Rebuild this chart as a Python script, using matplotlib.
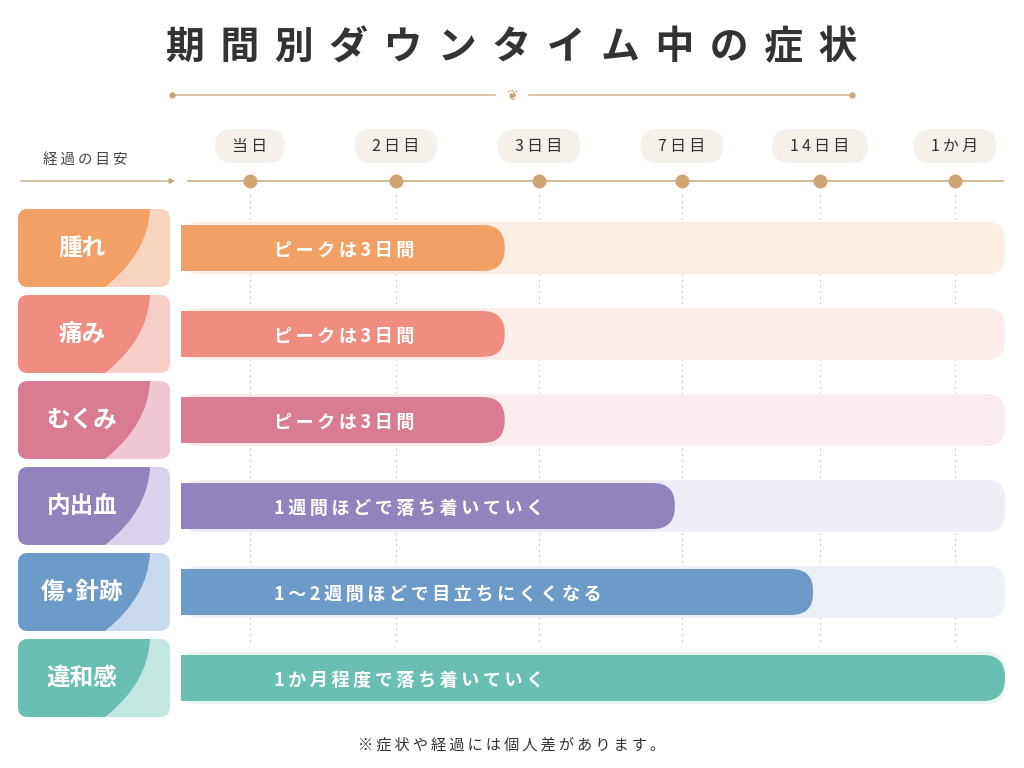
import matplotlib
matplotlib.use("Agg")
import matplotlib.pyplot as plt
from matplotlib.patches import FancyBboxPatch, PathPatch
from matplotlib.path import Path
import numpy as np

plt.rcParams['font.family'] = ['Noto Sans CJK JP', 'DejaVu Sans']

title = "期間別ダウンタイム中の症状"
axis_label = "経過の目安"
ticks = ["当日", "2日目", "3日目", "7日目", "14日目", "1か月"]
symptoms = ["腫れ", "痛み", "むくみ", "内出血", "傷･針跡", "違和感"]
notes = ["ピークは3日間", "ピークは3日間", "ピークは3日間",
         "1週間ほどで落ち着いていく", "1〜2週間ほどで目立ちにくくなる",
         "1か月程度で落ち着いていく"]
bar_end = [1.76, 1.76, 1.76, 2.95, 3.95, 5.37]   # position on the timeline (tick index units)
footnote = "※症状や経過には個人差があります。"

colors = ["#F2A065", "#EF8D80", "#D97B93", "#9283BC", "#6D9BC8", "#6ABFB3"]
light = ["#FBEEE4", "#FBEDEA", "#F8ECEE", "#EFEDF5", "#ECF0F7", "#E8F4F2"]
label_light = ["#F8D3BD", "#F8CFC8", "#F0C6D2", "#D9D2EA", "#C9DAEE", "#C4E6E1"]

tick_px = [250, 396, 539, 682, 820, 955]

def X(i):
    if i < 0:
        return tick_px[0] + (tick_px[1] - tick_px[0]) * i
    if i > 5:
        return tick_px[5] + (tick_px[5] - tick_px[4]) * (i - 5)
    return float(np.interp(i, range(6), tick_px))

def sp(s, k=1):
    return ("\u2009" * k).join(s)

fig = plt.figure(figsize=(10.24, 7.68), dpi=100)
ax = fig.add_axes([0, 0, 1, 1])
ax.set_xlim(0, 1024); ax.set_ylim(768, 0); ax.axis('off')

ax.text(512, 48, sp(title, 2), ha='center', va='center', fontsize=28, fontweight='bold', color='#333333')
ax.plot([172, 495], [95, 95], color='#D9BD98', lw=1.2)
ax.plot([529, 852], [95, 95], color='#D9BD98', lw=1.2)
for xx in (172, 852):
    ax.plot(xx, 95, 'o', ms=3.5, color='#C8A27A')
ax.text(512, 95, "❦", ha='center', va='center', fontsize=10, color='#C8A27A', family=['DejaVu Sans'])

ax.text(85, 160, sp(axis_label), ha='center', va='center', fontsize=10.5, color='#444444')
ax.annotate("", xy=(178, 181), xytext=(18, 181),
            arrowprops=dict(arrowstyle='-|>', color='#C8A882', lw=1, mutation_scale=8))
ax.plot([188, 1003], [181, 181], color='#D2B48E', lw=1.3)
for i, t in enumerate(ticks):
    x = X(i)
    w = 44 + 13 * len(t)
    ax.add_patch(FancyBboxPatch((x - w / 2, 129), w, 34, boxstyle="round,pad=0,rounding_size=17",
                                fc='#F6F0EA', ec='none'))
    ax.text(x, 146, sp(t), ha='center', va='center', fontsize=11.5, color='#333333')
    ax.plot(x, 181, 'o', ms=9, color='#CFA473')
    ax.plot([x, x], [195, 645], color='#CCCCCC', lw=0.9, ls=(0, (1.5, 3)), zorder=0)

start = X(-0.47)
for r, (s, n, e) in enumerate(zip(symptoms, notes, bar_end)):
    yc = 248 + 86 * r
    box = FancyBboxPatch((18, yc - 39), 152, 78, boxstyle="round,pad=0,rounding_size=10",
                         fc=label_light[r], ec='none')
    ax.add_patch(box)
    verts = [(18, yc - 39), (150, yc - 39), (148, yc + 5), (105, yc + 39), (18, yc + 39), (18, yc - 39)]
    codes = [Path.MOVETO, Path.LINETO, Path.CURVE3, Path.CURVE3, Path.LINETO, Path.CLOSEPOLY]
    dark = PathPatch(Path(verts, codes), fc=colors[r], ec='none')
    ax.add_patch(dark)
    dark.set_clip_path(box)
    ax.text(82, yc, s, ha='center', va='center', fontsize=17, fontweight='bold', color='white')
    ax.add_patch(FancyBboxPatch((start, yc - 26), X(5.37) - start, 52,
                                boxstyle="round,pad=0,rounding_size=18", fc=light[r], ec='none', zorder=1))
    ax.add_patch(FancyBboxPatch((start, yc - 23), X(e) - start, 46,
                                boxstyle="round,pad=0,rounding_size=22", fc=colors[r], ec='none', zorder=2))
    ax.add_patch(FancyBboxPatch((start, yc - 23), 30, 46, boxstyle="square,pad=0",
                                fc=colors[r], ec='none', zorder=2))
    ax.text(274, yc + 2, sp(n), ha='left', va='center', fontsize=13, fontweight='bold',
            color='white', zorder=3)

ax.text(512, 745, sp(footnote), ha='center', va='center', fontsize=11, color='#333333')
fig.savefig("out.png", dpi=100, facecolor='white')
